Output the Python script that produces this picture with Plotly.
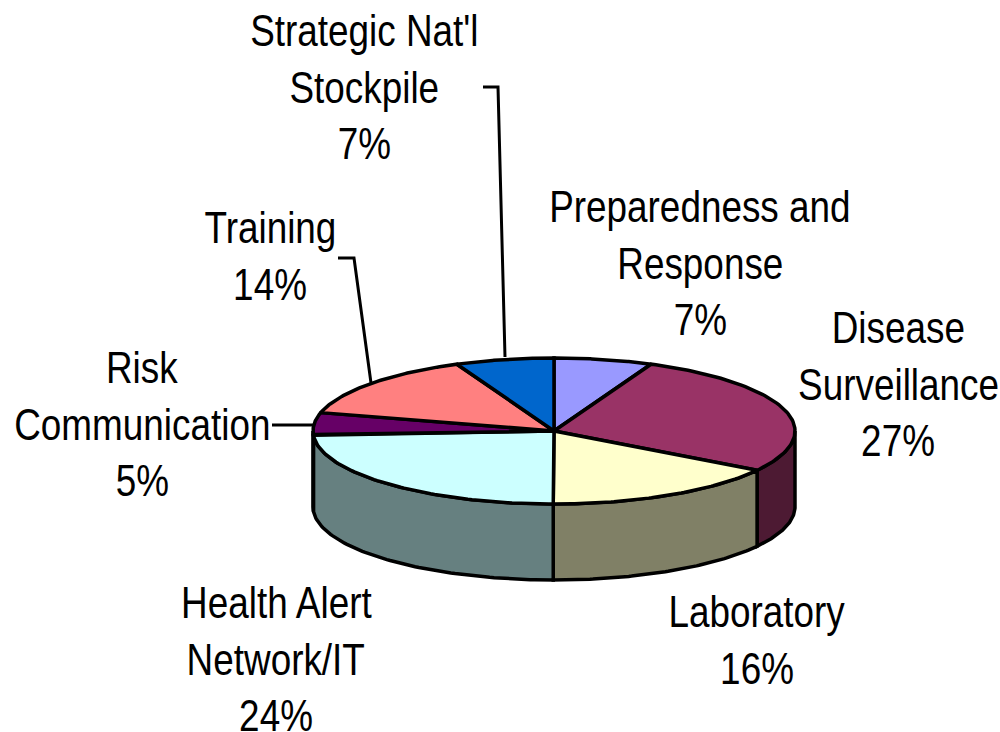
import numpy as np
import plotly.graph_objects as go

categories = ["Preparedness and Response", "Disease Surveillance", "Laboratory",
              "Health Alert Network/IT", "Risk Communication", "Training",
              "Strategic Nat'l Stockpile"]
values = [6.6, 27.45, 16.0, 24.0, 5.0, 14.35, 6.6]
top_colors = ["#9999FF", "#993366", "#FFFFCC", "#CCFFFF", "#660066", "#FF8080", "#0066CC"]
side_colors = ["#4D4D80", "#4D1A33", "#808066", "#668080", "#330033", "#804040", "#003366"]

label_lines = [["Preparedness and", "Response", "7%"],
               ["Disease", "Surveillance", "27%"],
               ["Laboratory", "16%"],
               ["Health Alert", "Network/IT", "24%"],
               ["Risk", "Communication", "5%"],
               ["Training", "14%"],
               ["Strategic Nat'l", "Stockpile", "7%"]]
label_x = [700, 898, 757, 276, 142, 270, 364]
label_y = [206.5, 327.5, 611.5, 602.5, 367.5, 227.5, 30.5]
leaders_x = [[483, 498, 505], [338, 354, 371], [272, 314]]
leaders_y = [[87, 87, 357], [258, 258, 383], [425, 425]]

CX, CY, RX, RY, DEPTH = 554, 431, 241, 73, 76
LINE_H = 56.7
FONT = dict(family="Liberation Sans, Arial", size=45, color="black")
EDGE = dict(color="black", width=3.5)

def rim(a0, a1, n=80):
    a = np.linspace(a0, a1, n)
    return CX + RX * np.sin(a), CY - RY * np.cos(a)

fig = go.Figure()
edges = np.concatenate([[0], np.cumsum(values)]) / sum(values) * 2 * np.pi

# side walls: only the front half (clockwise angle from top, pi/2..3pi/2)
for i in range(len(values)):
    a0, a1 = max(edges[i], np.pi / 2), min(edges[i + 1], 1.5 * np.pi)
    if a1 <= a0:
        continue
    x, y = rim(a0, a1)
    fig.add_trace(go.Scatter(x=np.r_[x, x[::-1], x[0]], y=np.r_[y, y[::-1] + DEPTH, y[0]],
                             mode="lines", fill="toself", fillcolor=side_colors[i],
                             line=EDGE, hoverinfo="skip", showlegend=False))
# top faces
for i, c in enumerate(categories):
    x, y = rim(edges[i], edges[i + 1])
    fig.add_trace(go.Scatter(x=np.r_[CX, x, CX], y=np.r_[CY, y, CY], mode="lines", fill="toself",
                             fillcolor=top_colors[i], line=EDGE, name=c, showlegend=False))
# leader lines
for lx, ly in zip(leaders_x, leaders_y):
    fig.add_trace(go.Scatter(x=lx, y=ly, mode="lines", line=dict(color="black", width=3),
                             hoverinfo="skip", showlegend=False))
# labels
for lines, lx, ly in zip(label_lines, label_x, label_y):
    for k, t in enumerate(lines):
        fig.add_annotation(x=lx, y=ly + k * LINE_H, text=t, showarrow=False,
                           xanchor="center", yanchor="middle", font=FONT)

fig.update_layout(width=1000, height=732, margin=dict(l=0, r=0, t=0, b=0),
                  paper_bgcolor="white", plot_bgcolor="white",
                  xaxis=dict(range=[0, 1000], visible=False, fixedrange=True),
                  yaxis=dict(range=[732, 0], visible=False, fixedrange=True))
# page margin off; condensed look of the labels (no narrow face is installed)
POST = """
document.body.style.margin = '0';
document.body.style.overflow = 'hidden';
var st = document.createElement('style');
st.textContent = '.annotation-text{transform-box:fill-box;transform-origin:center;transform:scaleX(0.82);}';
document.head.appendChild(st);
"""
fig.write_html("out.html", config=dict(displayModeBar=False), post_script=POST)
